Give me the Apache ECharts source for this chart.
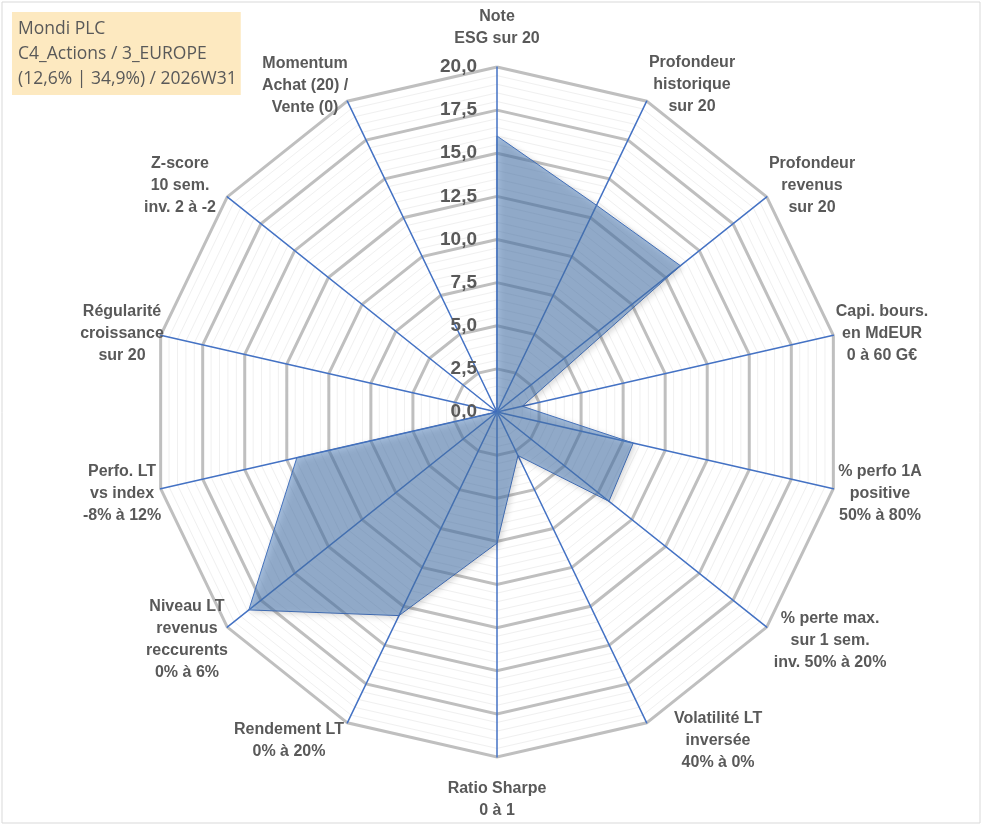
<!DOCTYPE html>
<html>
<head>
    <meta charset="utf-8">
    <title>Radar Mondi PLC</title>
    <script src="https://cdn.jsdelivr.net/npm/echarts@6/dist/echarts.min.js"></script>
</head>
<body style="margin:0;">
    <div id="main" style="width:991px;height:830px;"></div>
    <script type="text/javascript">
// critères, dans le sens des aiguilles d'une montre depuis le haut
var criteres = [
    'Note\nESG sur 20',
    'Profondeur\nhistorique\nsur 20',
    'Profondeur\nrevenus\nsur 20',
    'Capi. bours.\nen MdEUR\n0 à 60 G€',
    '% perfo 1A\npositive\n50% à 80%',
    '% perte max.\nsur 1 sem.\ninv. 50% à 20%',
    'Volatilité LT\ninversée\n40% à 0%',
    'Ratio Sharpe\n0 à 1',
    'Rendement LT\n0% à 20%',
    'Niveau LT\nrevenus\nreccurents\n0% à 6%',
    'Perfo. LT\nvs index\n-8% à 12%',
    'Régularité\ncroissance\nsur 20',
    'Z-score\n10 sem.\ninv. 2 à -2',
    'Momentum\nAchat (20) /\nVente (0)'
];
var valeurs = [16, 13.3, 13.6, 1.5, 8.1, 8.3, 2.8, 7.6, 13.1, 18.4, 11.9, 0, 0, 0];
var graduations = ['0,0', '2,5', '5,0', '7,5', '10,0', '12,5', '15,0', '17,5', '20,0'];
var titre = ['Mondi PLC', 'C4_Actions / 3_EUROPE', '(12,6% | 34,9%) / 2026W31'];

// placement des libellés : distance au bout de l'axe et décalage horizontal
var ecart = [39, 18, 17.5, 5.6, 23.5, 22.3, 20.2, 43, 20.2, 20.7, 23.5, 5.6, 17.5, 16.8];
var decalX = [0, 37.5, 31.6, 43.2, 23.7, 45.9, 62.6, 0, -49.6, -24.1, -15.7, -33.2, -33.6, -35];

var myChart = echarts.init(document.getElementById('main'));

// echarts tourne dans le sens inverse : on inverse l'ordre après le premier
var ordre = [0];
for (var i = criteres.length - 1; i > 0; i--) ordre.push(i);

function indicateurs(avecNoms) {
    return ordre.map(function (i) {
        var ind = { name: avecNoms ? criteres[i] : '', min: 0, max: 20 };
        if (avecNoms) {
            var sx = decalX[i];
            ind.nameGap = ecart[i];
            ind.nameTextStyle = {
                padding: [0, sx < 0 ? -2 * sx : 0, 0, sx > 0 ? 2 * sx : 0]
            };
            ind.axisLabel = { show: i === 0 };
        }
        return ind;
    });
}

var base = {
    center: [497, 412],
    radius: 345,
    shape: 'polygon',
    startAngle: 90,
    splitArea: { show: false },
    axisTick: { show: false }
};

option = {
    animation: false,
    backgroundColor: '#ffffff',
    title: {
        text: titre.join('\n'),
        left: 12,
        top: 12,
        padding: [5, 4, 3, 6],
        backgroundColor: '#fde9c0',
        textStyle: {
            fontFamily: 'Open Sans',
            fontSize: 17.5,
            fontWeight: 'normal',
            color: '#595959',
            lineHeight: 25
        }
    },
    graphic: [{
        type: 'rect',
        shape: { x: 2, y: 2, width: 978, height: 821 },
        style: { fill: 'none', stroke: '#d9d9d9', lineWidth: 1 },
        silent: true
    }],
    radar: [
        // petits cercles
        echarts.util.merge({
            indicator: indicateurs(false),
            splitNumber: 40,
            axisName: { show: false },
            axisLine: { show: false },
            axisLabel: { show: false },
            splitLine: { lineStyle: { color: '#f0f0f0', width: 1 } }
        }, base),
        // grands cercles
        echarts.util.merge({
            indicator: indicateurs(false),
            splitNumber: 8,
            axisName: { show: false },
            axisLine: { show: false },
            axisLabel: { show: false },
            splitLine: { lineStyle: { color: '#bfbfbf', width: 3 } }
        }, base),
        // axes, noms et graduations
        echarts.util.merge({
            indicator: indicateurs(true),
            splitNumber: 8,
            axisName: {
                color: '#595959',
                fontFamily: 'Liberation Sans',
                fontSize: 16,
                fontWeight: 'bold',
                lineHeight: 22,
                align: 'center',
                verticalAlign: 'middle'
            },
            axisLine: { show: true, lineStyle: { color: '#4472c4', width: 1.5 } },
            axisLabel: {
                show: true,
                margin: 20,
                color: '#595959',
                fontFamily: 'Liberation Sans',
                fontSize: 19,
                fontWeight: 'bold',
                formatter: function (v) {
                    return graduations[Math.round(v / 2.5)];
                }
            },
            splitLine: { show: false }
        }, base)
    ],
    series: [{
        name: 'Mondi PLC',
        type: 'radar',
        radarIndex: 2,
        symbol: 'none',
        lineStyle: { color: '#4472c4', width: 1 },
        areaStyle: {
            color: 'rgba(79,129,189,0.72)',
            shadowColor: 'rgba(0,0,0,0.35)',
            shadowBlur: 6,
            shadowOffsetX: 2,
            shadowOffsetY: 2
        },
        data: [{ value: ordre.map(function (i) { return valeurs[i]; }) }]
    }]
};

myChart.setOption(option);
    </script>
</body>
</html>
